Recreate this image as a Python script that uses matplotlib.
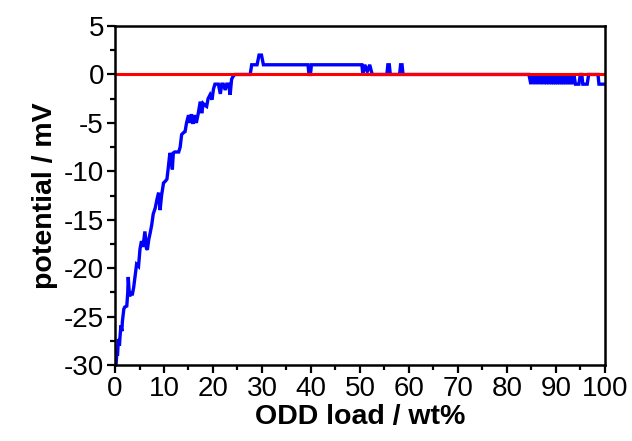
import matplotlib
matplotlib.use("Agg")
import matplotlib.pyplot as plt
from matplotlib.ticker import MultipleLocator

plt.rcParams['font.family'] = ['Liberation Sans', 'DejaVu Sans']
plt.rcParams['axes.unicode_minus'] = False

# Potential trace vs. ODD load
load_wt = [
    0.2, 0.4, 0.5, 0.7, 0.9, 1.0, 1.2, 1.4, 1.5, 1.8, 2.0, 2.4, 2.6, 2.7, 2.9, 3.0,
    3.3, 3.5, 3.8, 4.1, 4.4, 4.8, 5.1, 5.4, 5.7, 6.1, 6.4, 6.6, 6.9, 7.2, 7.5, 7.8,
    8.2, 8.6, 8.9, 9.2, 9.5, 9.9, 10.3, 10.6, 10.9, 11.2, 11.5, 11.7, 11.9, 12.2, 13.0,
    13.3, 13.6, 14.0, 14.3, 14.6, 15.0, 15.3, 15.6, 15.9, 16.2, 16.6, 17.0, 17.4, 17.7,
    18.0, 18.4, 18.7, 19.0, 19.4, 19.8, 20.1, 20.4, 21.1, 21.5, 21.8, 22.1, 22.5, 22.8,
    23.2, 23.5, 23.8, 24.1, 24.5,
    27.6, 27.9, 29.0, 29.4, 29.9, 30.3, 39.4, 39.6, 39.9, 40.1, 50.4, 50.6, 51.0, 51.5,
    52.0, 52.5, 55.5, 55.7, 56.0, 56.2, 58.1, 58.3, 58.6, 58.8,
    84.5, 84.9, 85.2, 85.6, 85.9, 86.3, 86.6, 87.0, 87.3, 87.6, 87.8, 88.1, 88.3, 88.6,
    88.8, 89.1, 89.3, 89.5, 89.7, 89.9, 90.1, 90.3, 90.5, 90.7, 90.9, 91.1, 91.3, 91.5,
    91.7, 91.9, 92.1, 92.3, 92.5, 92.7, 92.9, 93.1, 93.3, 93.5, 93.7, 94.0, 94.7, 95.0,
    95.3, 95.5, 96.4, 96.7, 98.6, 98.8, 100.0,
]
potential_mv = [
    -30, -28.5, -29, -27.3, -28, -27.2, -25.9, -26.5, -25.5, -24.2, -24.0, -23.9, -22.5, -20.9, -22.5, -22.9,
    -22.4, -22.8, -22.0, -20.8, -19.6, -19.8, -18.0, -17.2, -17.8, -16.2, -17.9, -18.1, -17.0, -16.3, -15.5, -14.4,
    -13.8, -12.8, -12.2, -14.0, -12.5, -11.2, -11.0, -10.8, -9.5, -8.1, -8.6, -9.8, -8.1, -8.0, -8.0,
    -7.5, -6.2, -6.0, -5.9, -5.0, -4.2, -5.0, -4.1, -5.1, -4.2, -5.0, -4.0, -2.8, -4.0,
    -3.0, -3.2, -3.3, -2.5, -2.1, -2.6, -1.5, -1.0, -1.0, -2.0, -1.0, -1.0, -1.6, -1.0,
    -1.0, -2.1, -0.5, -0.2, 0,
    0, 1, 1, 2, 2, 1, 1, 0, 0, 1, 1, 0, 1, 0.3,
    1, 0, 0, 1, 1, 0, 0, 1, 1, 0,
    0, -1, 0, -1, 0, -1, 0, -1, 0, -1, 0, -1, 0, -1,
    0, -1, 0, -1, 0, -1, 0, -1, 0, -1, 0, -1, 0, -1,
    0, -1, 0, -1, 0, -1, 0, -1, 0, -1, 0, -1, -1, 0,
    0, -1, -1, 0, 0, -1, -1,
]

# Zero reference line
ref_x = [0, 100]
ref_y = [0, 0]

fig = plt.figure(figsize=(6.32, 4.41), dpi=100)
ax = fig.add_axes([0.182, 0.172, 0.775, 0.769])

ax.plot(load_wt, potential_mv, color='#0000ff', lw=2.4, solid_joinstyle='miter')
ax.plot(ref_x, ref_y, color='#ff0000', lw=2.2)

ax.set_xlim(0, 100)
ax.set_ylim(-30, 5)
ax.xaxis.set_major_locator(MultipleLocator(10))
ax.xaxis.set_minor_locator(MultipleLocator(5))
ax.yaxis.set_major_locator(MultipleLocator(5))
ax.yaxis.set_minor_locator(MultipleLocator(2.5))

ax.tick_params(which='both', direction='out', width=1.6, labelsize=20,
               top=False, right=False)
ax.tick_params(which='major', length=6, pad=2)
ax.tick_params(which='minor', length=3.5)
for sp in ax.spines.values():
    sp.set_linewidth(1.8)

ax.set_xlabel('ODD load / wt%', fontsize=20.5, fontweight='bold', labelpad=1)
ax.set_ylabel('potential / mV', fontsize=20.5, fontweight='bold', labelpad=4)

fig.savefig('out.png', dpi=100)
